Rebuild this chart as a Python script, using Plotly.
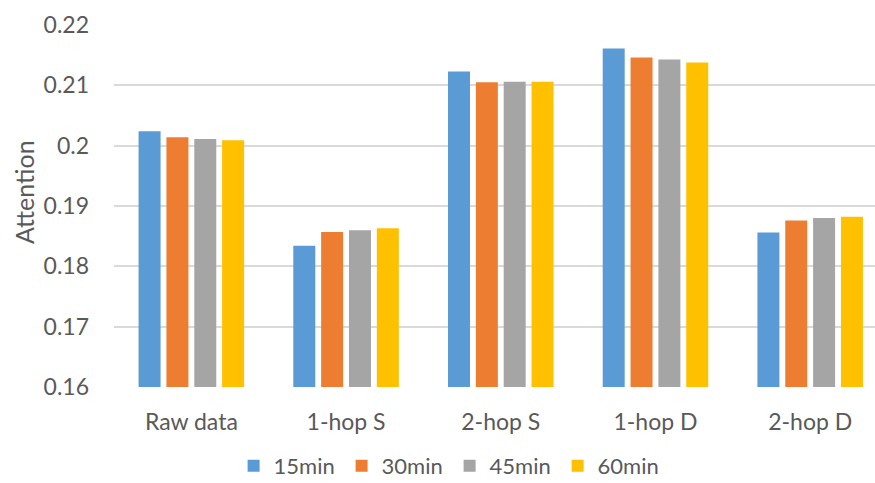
import plotly.graph_objects as go

categories = ["Raw data", "1-hop S", "2-hop S", "1-hop D", "2-hop D"]
series_names = ["15min", "30min", "45min", "60min"]
values_15 = [0.2024, 0.1834, 0.2123, 0.2161, 0.1856]
values_30 = [0.2014, 0.1857, 0.2105, 0.2146, 0.1876]
values_45 = [0.2011, 0.1860, 0.2106, 0.2143, 0.1880]
values_60 = [0.2009, 0.1863, 0.2106, 0.2138, 0.1882]
y_ticks = [0.16, 0.17, 0.18, 0.19, 0.2, 0.21, 0.22]
y_tick_text = ["0.16", "0.17", "0.18", "0.19", "0.2", "0.21", "0.22"]

colors = ["#5B9BD5", "#ED7D31", "#A5A5A5", "#FFC000"]
font_family = "Lato"
text_color = "#595959"

fig = go.Figure()
for name, vals, col in zip(series_names, [values_15, values_30, values_45, values_60], colors):
    fig.add_trace(go.Bar(
        x=list(range(len(categories))), y=vals, name=name,
        marker=dict(color=col, line=dict(width=0)),
    ))

fig.update_layout(
    width=875, height=483,
    margin=dict(l=114, r=0, t=25, b=96, autoexpand=False),
    paper_bgcolor="white", plot_bgcolor="white",
    barmode="group", bargap=0.28, bargroupgap=0.21,
    font=dict(family=font_family, color=text_color, size=22),
    showlegend=True,
    legend=dict(
        orientation="h", x=0.441, xanchor="center", y=-0.218, yanchor="middle",
        font=dict(size=22, color=text_color, family=font_family),
        entrywidth=63, entrywidthmode="pixels",
        itemwidth=30, traceorder="normal",
    ),
    xaxis=dict(
        range=[-0.5, 4.419], tickmode="array",
        tickvals=list(range(len(categories))), ticktext=categories,
        showgrid=False, showline=False, zeroline=False,
        ticks="", ticklabelstandoff=19,
        tickfont=dict(size=23, color=text_color, family=font_family),
    ),
    yaxis=dict(
        range=[0.16, 0.22], tickmode="array", tickvals=y_ticks, ticktext=y_tick_text,
        showgrid=True, gridcolor="#D9D9D9", gridwidth=1.5,
        zeroline=False, showline=False, ticks="", ticklabelstandoff=24,
        tickfont=dict(size=23, color=text_color, family=font_family),
    ),
    annotations=[dict(
        text="Attention", textangle=-90, showarrow=False,
        xref="paper", yref="paper", x=-0.118, y=0.539,
        xanchor="center", yanchor="middle",
        font=dict(size=25, color=text_color, family=font_family),
    )],
)

fig.write_html("out.html")
